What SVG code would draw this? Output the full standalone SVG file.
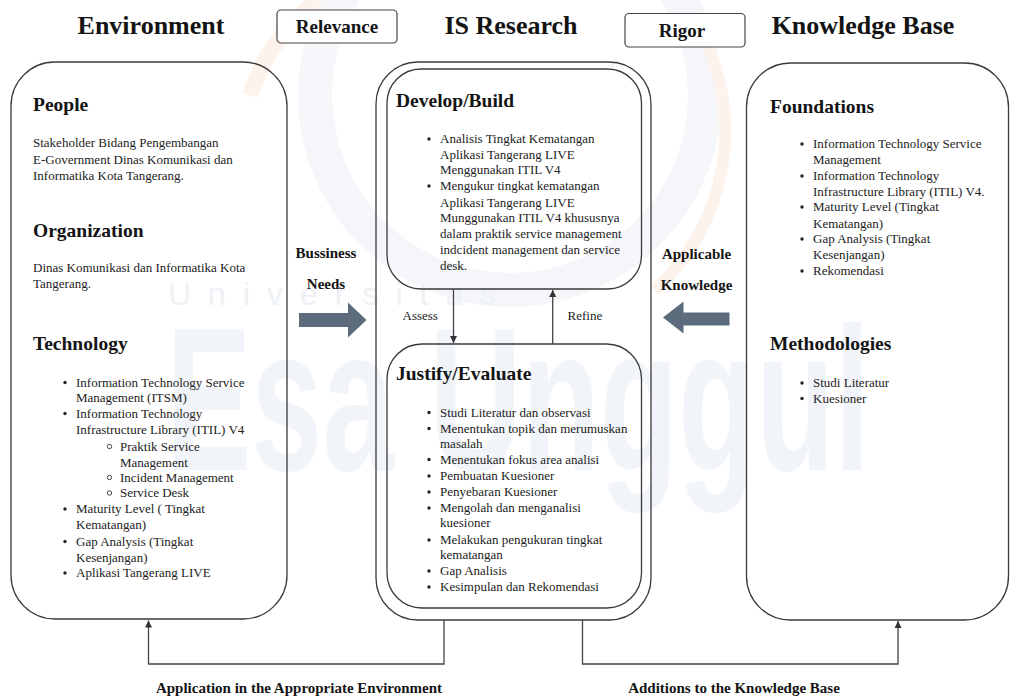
<svg xmlns="http://www.w3.org/2000/svg" width="1011" height="698" viewBox="0 0 1011 698">
  <defs>
    <style>
      .ttl { font: bold 26px "Liberation Serif", serif; fill: #141414; }
      .tag { font: bold 19px "Liberation Serif", serif; fill: #141414; }
      .hd  { font: bold 19.5px "Liberation Serif", serif; fill: #141414; }
      .tx  { font: 13px "Liberation Serif", serif; fill: #222; }
      .lbl { font: bold 15px "Liberation Serif", serif; fill: #141414; }
      .panel { fill: none; stroke: #3a3a3a; stroke-width: 1.3; }
      .tagbox { fill: #fff; stroke: #444; stroke-width: 1.2; }
      .flow { fill: none; stroke: #444; stroke-width: 1.3; }
      .dot { fill: #222; }
      .ring { fill: none; stroke: #333; stroke-width: 0.9; }
      .big { fill: #5c6c7c; }
      .wm { font-family: "Liberation Sans", Arial, sans-serif; }
    </style>
    <marker id="tip" viewBox="0 0 10 10" refX="10" refY="5" markerWidth="7" markerHeight="7" markerUnits="userSpaceOnUse" orient="auto">
      <path d="M0,0 L10,5 L0,10 z" fill="#333"/>
    </marker>
  </defs>

  <rect width="1011" height="698" fill="#fff"/>

  <!-- faint university watermark behind the diagram -->
  <g id="watermark">
    <circle cx="510" cy="95" r="195" fill="none" stroke="#f4f6f9" stroke-width="34"/>
    <path d="M 318 0 A 200 200 0 0 0 250 95" fill="none" stroke="#fdf2ec" stroke-width="16"/>
    <path d="M 700 30 A 215 215 0 0 1 655 290" fill="none" stroke="#fdf2ec" stroke-width="12"/>
    <text class="wm" x="168" y="305" font-size="32" letter-spacing="17" fill="#eef1f5">Universitas</text>
    <text class="wm" transform="translate(166,470) scale(1,1.6)" font-size="128" font-weight="bold" fill="#f1f4f8">Esa Unggul</text>
  </g>

  <!-- column headings -->
  <g id="headings">
    <text class="ttl" x="151" y="34" text-anchor="middle">Environment</text>
    <text class="ttl" x="511" y="34" text-anchor="middle">IS Research</text>
    <text class="ttl" x="863" y="34" text-anchor="middle">Knowledge Base</text>
  </g>

  <g id="relevance">
    <rect class="tagbox" x="277" y="10" width="120" height="33" rx="4"/>
    <text class="tag" x="337" y="33" text-anchor="middle">Relevance</text>
  </g>

  <g id="rigor">
    <rect class="tagbox" x="625" y="13.5" width="120" height="33.5" rx="4"/>
    <text class="tag" x="682" y="37" text-anchor="middle">Rigor</text>
  </g>

  <!-- Environment column -->
  <g id="environment">
    <rect class="panel" x="11" y="62" width="276" height="557" rx="44"/>
    <text class="hd" x="33" y="111">People</text>
    <text class="tx" x="33" y="147">Stakeholder Bidang Pengembangan</text>
    <text class="tx" x="33" y="163.5">E-Government Dinas Komunikasi dan</text>
    <text class="tx" x="33" y="180">Informatika Kota Tangerang.</text>

    <text class="hd" x="33" y="236.5">Organization</text>
    <text class="tx" x="33" y="271.5">Dinas Komunikasi dan Informatika Kota</text>
    <text class="tx" x="33" y="288">Tangerang.</text>

    <text class="hd" x="33" y="349.5">Technology</text>
    <circle class="dot" cx="65" cy="382.5" r="1.7"/>
    <text class="tx" x="76" y="386.7">Information Technology Service</text>
    <text class="tx" x="76" y="402.3">Management (ITSM)</text>
    <circle class="dot" cx="65" cy="413.5" r="1.7"/>
    <text class="tx" x="76" y="417.7">Information Technology</text>
    <text class="tx" x="76" y="434.3">Infrastructure Library (ITIL) V4</text>
    <circle class="ring" cx="109.5" cy="446.5" r="2.2"/>
    <text class="tx" x="120" y="450.7">Praktik Service</text>
    <text class="tx" x="120" y="466.7">Management</text>
    <circle class="ring" cx="109.5" cy="477.5" r="2.2"/>
    <text class="tx" x="120" y="481.7">Incident Management</text>
    <circle class="ring" cx="109.5" cy="493" r="2.2"/>
    <text class="tx" x="120" y="497.3">Service Desk</text>
    <circle class="dot" cx="65" cy="509" r="1.7"/>
    <text class="tx" x="76" y="513.3">Maturity Level ( Tingkat</text>
    <text class="tx" x="76" y="529">Kematangan)</text>
    <circle class="dot" cx="65" cy="541.5" r="1.7"/>
    <text class="tx" x="76" y="545.7">Gap Analysis (Tingkat</text>
    <text class="tx" x="76" y="561.7">Kesenjangan)</text>
    <circle class="dot" cx="65" cy="573" r="1.7"/>
    <text class="tx" x="76" y="577.3">Aplikasi Tangerang LIVE</text>
  </g>

  <!-- IS Research column -->
  <g id="is-research">
    <rect class="panel" x="376" y="62" width="275" height="558" rx="42"/>
  </g>

  <g id="develop-build">
    <rect class="panel" x="387" y="69" width="254.5" height="220" rx="34"/>
    <text class="hd" x="396" y="107">Develop/Build</text>
    <circle class="dot" cx="429" cy="139" r="1.7"/>
    <text class="tx" x="440" y="143.3">Analisis Tingkat Kematangan</text>
    <text class="tx" x="440" y="159.3">Aplikasi Tangerang LIVE</text>
    <text class="tx" x="440" y="174.3">Menggunakan ITIL V4</text>
    <circle class="dot" cx="429" cy="186" r="1.7"/>
    <text class="tx" x="440" y="190.3">Mengukur tingkat kematangan</text>
    <text class="tx" x="440" y="207">Aplikasi Tangerang LIVE</text>
    <text class="tx" x="440" y="221.7">Munggunakan ITIL V4 khususnya</text>
    <text class="tx" x="440" y="237.7">dalam praktik service management</text>
    <text class="tx" x="440" y="253.7">indcident management dan service</text>
    <text class="tx" x="440" y="270">desk.</text>
  </g>

  <g id="justify-evaluate">
    <rect class="panel" x="387" y="344" width="254.5" height="264" rx="35"/>
    <text class="hd" x="396" y="380">Justify/Evaluate</text>
    <circle class="dot" cx="429" cy="412.5" r="1.7"/>
    <text class="tx" x="440" y="416.7">Studi Literatur dan observasi</text>
    <circle class="dot" cx="429" cy="428.5" r="1.7"/>
    <text class="tx" x="440" y="432.7">Menentukan topik dan merumuskan</text>
    <text class="tx" x="440" y="448.3">masalah</text>
    <circle class="dot" cx="429" cy="459.5" r="1.7"/>
    <text class="tx" x="440" y="463.7">Menentukan fokus area analisi</text>
    <circle class="dot" cx="429" cy="476" r="1.7"/>
    <text class="tx" x="440" y="480">Pembuatan Kuesioner</text>
    <circle class="dot" cx="429" cy="492" r="1.7"/>
    <text class="tx" x="440" y="496">Penyebaran Kuesioner</text>
    <circle class="dot" cx="429" cy="508" r="1.7"/>
    <text class="tx" x="440" y="512">Mengolah dan menganalisi</text>
    <text class="tx" x="440" y="527">kuesioner</text>
    <circle class="dot" cx="429" cy="540" r="1.7"/>
    <text class="tx" x="440" y="544.3">Melakukan pengukuran tingkat</text>
    <text class="tx" x="440" y="559.3">kematangan</text>
    <circle class="dot" cx="429" cy="571" r="1.7"/>
    <text class="tx" x="440" y="575">Gap Analisis</text>
    <circle class="dot" cx="429" cy="587" r="1.7"/>
    <text class="tx" x="440" y="591">Kesimpulan dan Rekomendasi</text>
  </g>

  <!-- Knowledge Base column -->
  <g id="knowledge-base">
    <rect class="panel" x="746.5" y="63" width="262" height="557" rx="44"/>
    <text class="hd" x="770" y="112.7">Foundations</text>
    <circle class="dot" cx="802" cy="144" r="1.7"/>
    <text class="tx" x="813" y="148.3">Information Technology Service</text>
    <text class="tx" x="813" y="163.7">Management</text>
    <circle class="dot" cx="802" cy="176" r="1.7"/>
    <text class="tx" x="813" y="180.3">Information Technology</text>
    <text class="tx" x="813" y="196">Infrastructure Library (ITIL) V4.</text>
    <circle class="dot" cx="802" cy="207" r="1.7"/>
    <text class="tx" x="813" y="211">Maturity Level (Tingkat</text>
    <text class="tx" x="813" y="227.7">Kematangan)</text>
    <circle class="dot" cx="802" cy="239" r="1.7"/>
    <text class="tx" x="813" y="243.3">Gap Analysis (Tingkat</text>
    <text class="tx" x="813" y="259.3">Kesenjangan)</text>
    <circle class="dot" cx="802" cy="271" r="1.7"/>
    <text class="tx" x="813" y="275">Rekomendasi</text>

    <text class="hd" x="770" y="350">Methodologies</text>
    <circle class="dot" cx="802" cy="383" r="1.7"/>
    <text class="tx" x="813" y="387.3">Studi Literatur</text>
    <circle class="dot" cx="802" cy="398.5" r="1.7"/>
    <text class="tx" x="813" y="402.7">Kuesioner</text>
  </g>

  <!-- connectors -->
  <g id="connectors">
    <g id="business-needs">
      <text class="lbl" x="326" y="257.5" text-anchor="middle">Bussiness</text>
      <text class="lbl" x="326" y="289" text-anchor="middle">Needs</text>
      <path class="big" d="M299,313 L348,313 L348,302.5 L366.5,320 L348,337.5 L348,327 L299,327 z"/>
    </g>
    <g id="applicable-knowledge">
      <text class="lbl" x="696.5" y="258.5" text-anchor="middle">Applicable</text>
      <text class="lbl" x="696.5" y="290" text-anchor="middle">Knowledge</text>
      <path class="big" d="M729.5,312.5 L683.5,312.5 L683.5,301.5 L663,317.5 L683.5,333.5 L683.5,325.5 L729.5,325.5 z"/>
    </g>

    <path class="flow" d="M453.5,289 V343" marker-end="url(#tip)"/>
    <text class="tx" x="402.5" y="320">Assess</text>
    <path class="flow" d="M552.7,344 V290" marker-end="url(#tip)"/>
    <text class="tx" x="567.5" y="320">Refine</text>

    <path class="flow" d="M444,620 V664 H148.5 V620.5" marker-end="url(#tip)"/>
    <path class="flow" d="M582.5,620 V664 H898 V621" marker-end="url(#tip)"/>
    <text class="lbl" x="299" y="693" text-anchor="middle">Application in the Appropriate Environment</text>
    <text class="lbl" x="734" y="693" text-anchor="middle">Additions to the Knowledge Base</text>
  </g>
</svg>
